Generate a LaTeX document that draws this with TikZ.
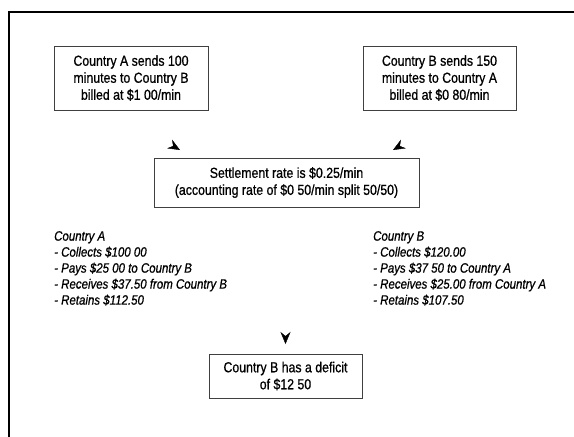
\documentclass[tikz,border=0pt]{standalone}
\usepackage{fontspec}
\setmainfont{Liberation Sans}[FakeStretch=0.85,FakeBold=0.8]
\usetikzlibrary{arrows.meta,calc}
\begin{document}
\begin{tikzpicture}[x=1pt,y=-1pt,
  box/.style={draw=black!75,line width=0.6pt,align=center,inner sep=0pt,
    font=\fontsize{14.5}{17}\selectfont},
  listtxt/.style={align=left,inner sep=0pt,anchor=north west,
    font=\fontsize{13.5}{16}\selectfont\itshape},
  frame/.style={line width=1.5pt,black},
  tip/.style={-{Stealth[length=12pt,width=10pt,inset=4pt]},line width=0.4pt}]
\useasboundingbox (0,0) rectangle (574,437);
\draw[frame] (9,437) -- (9,12) -- (574,12);
\node[box,minimum width=154pt,minimum height=64pt] (boxA) at (131,78)
  {Country A sends 100\\minutes to Country B\\billed at \$1 00/min};
\node[box,minimum width=153pt,minimum height=64pt] (boxB) at (439.5,78)
  {Country B sends 150\\minutes to Country A\\billed at \$0 80/min};
\node[box,minimum width=265pt,minimum height=49pt] (settle) at (286.5,182.5)
  {Settlement rate is \$0.25/min\\(accounting rate of \$0 50/min split 50/50)};
\node[box,minimum width=153pt,minimum height=44pt] (deficit) at (285.5,376)
  {Country B has a deficit\\of \$12 50};
\node[listtxt] (listA) at (54,231)
  {Country A\\- Collects \$100 00\\- Pays \$25 00 to Country B\\- Receives \$37.50 from Country B\\- Retains \$112.50};
\node[listtxt] (listB) at (373,231)
  {Country B\\- Collects \$120.00\\- Pays \$37 50 to Country A\\- Receives \$25.00 from Country A\\- Retains \$107.50};
\coordinate (tipL) at (180,150);
\coordinate (tipR) at (393,150);
\coordinate (tipD) at (285.5,344);
\draw[tip] ($(tipL)+(150:1pt)$) -- (tipL);
\draw[tip] ($(tipR)+(30:1pt)$) -- (tipR);
\draw[tip] ($(tipD)+(90:1pt)$) -- (tipD);
\end{tikzpicture}
\end{document}
